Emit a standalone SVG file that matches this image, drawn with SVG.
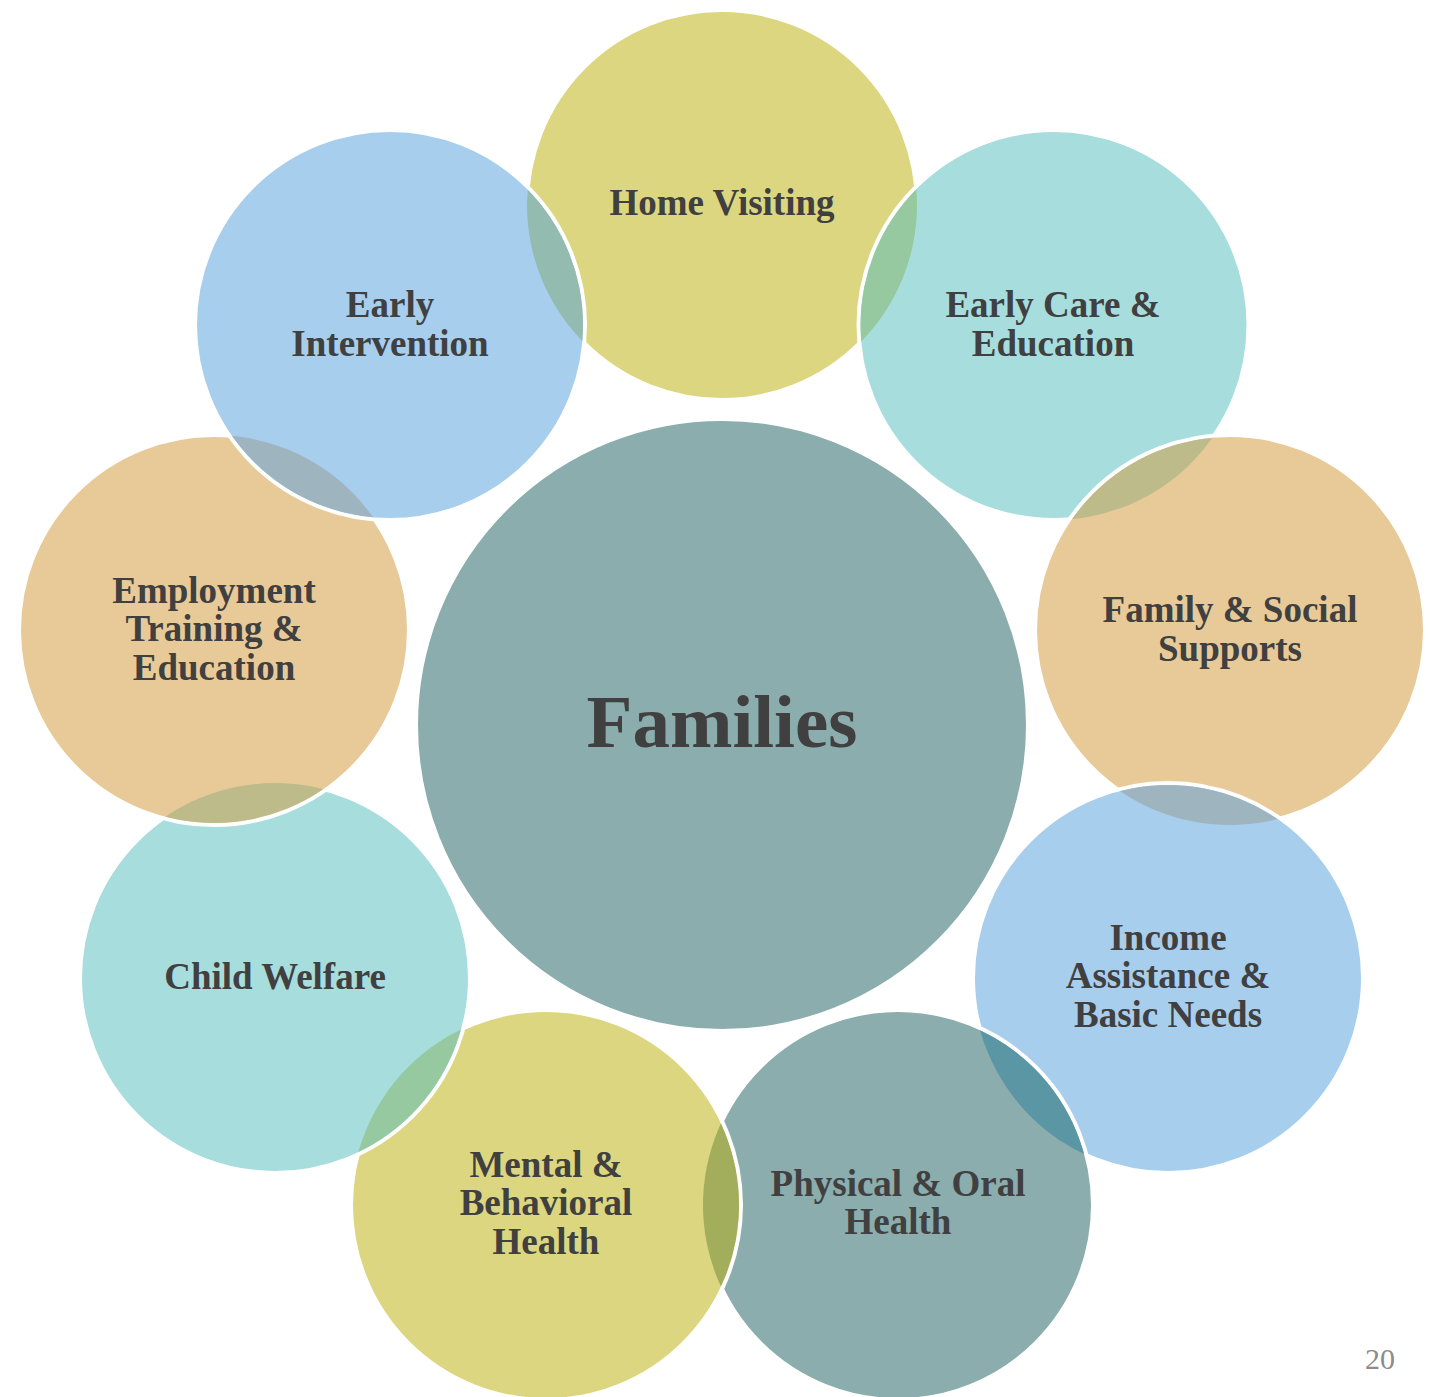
<svg xmlns="http://www.w3.org/2000/svg" width="1438" height="1397" viewBox="0 0 1438 1397">
  <style>
    .c { stroke: #ffffff; stroke-width: 4; }
    .lbl { font-family: "Liberation Serif", "Times New Roman", serif; font-weight: bold; font-size: 37px; fill: #404040; text-anchor: middle; }
    .big { font-family: "Liberation Serif", "Times New Roman", serif; font-weight: bold; font-size: 75px; fill: #404040; text-anchor: middle; }
    .pg { font-family: "Liberation Serif", "Times New Roman", serif; font-size: 30px; fill: #8c8c8c; text-anchor: end; }
  </style>
  <defs>
    <clipPath id="clipEC"><circle cx="1053.5" cy="325" r="193"/></clipPath>
    <clipPath id="clipFam"><circle cx="1230" cy="630" r="193"/></clipPath>
    <clipPath id="clipInc"><circle cx="1168" cy="978" r="193"/></clipPath>
    <clipPath id="clipPhy"><circle cx="898" cy="1205" r="193"/></clipPath>
    <clipPath id="clipMen"><circle cx="546" cy="1205" r="193"/></clipPath>
    <clipPath id="clipCW"><circle cx="275" cy="978" r="193"/></clipPath>
    <clipPath id="clipEmp"><circle cx="214" cy="630" r="193"/></clipPath>
    <clipPath id="clipEI"><circle cx="390" cy="325" r="193"/></clipPath>
  </defs>
  <rect width="1438" height="1397" fill="#ffffff"/>

  <g id="families">
    <circle cx="722" cy="725" r="306" fill="#8badad" class="c"/>
  </g>
  <g id="home-visiting">
    <circle cx="722" cy="205" r="195" fill="#dbd67f" class="c"/>
  </g>
  <g id="early-care-education">
    <circle cx="1053.5" cy="325" r="195" fill="#a8dddd" class="c"/>
  </g>
  <g id="family-social-supports">
    <circle cx="1230" cy="630" r="195" fill="#e8ca98" class="c"/>
  </g>
  <g id="income-assistance">
    <circle cx="1168" cy="978" r="195" fill="#a8ceee" class="c"/>
  </g>
  <g id="physical-oral-health">
    <circle cx="898" cy="1205" r="195" fill="#8badad" class="c"/>
  </g>
  <g id="mental-behavioral-health">
    <circle cx="546" cy="1205" r="195" fill="#dbd67f" class="c"/>
  </g>
  <g id="child-welfare">
    <circle cx="275" cy="978" r="195" fill="#a8dddd" class="c"/>
  </g>
  <g id="employment-training">
    <circle cx="214" cy="630" r="195" fill="#e8ca98" class="c"/>
  </g>
  <g id="early-intervention">
    <circle cx="390" cy="325" r="195" fill="#a8ceee" class="c"/>
  </g>

  <g id="overlaps">
    <circle cx="722" cy="205" r="195" fill="#97c9a0" clip-path="url(#clipEC)"/>
    <circle cx="1053.5" cy="325" r="195" fill="#bebb8b" clip-path="url(#clipFam)"/>
    <circle cx="1230" cy="630" r="195" fill="#9eb5bf" clip-path="url(#clipInc)"/>
    <circle cx="1168" cy="978" r="195" fill="#5b96a5" clip-path="url(#clipPhy)"/>
    <circle cx="898" cy="1205" r="195" fill="#a2ae5c" clip-path="url(#clipMen)"/>
    <circle cx="546" cy="1205" r="195" fill="#97c9a0" clip-path="url(#clipCW)"/>
    <circle cx="275" cy="978" r="195" fill="#bebb8b" clip-path="url(#clipEmp)"/>
    <circle cx="214" cy="630" r="195" fill="#9eb5bf" clip-path="url(#clipEI)"/>
    <circle cx="722" cy="205" r="195" fill="#93bbb0" clip-path="url(#clipEI)"/>
  </g>

  <g id="labels">
    <text class="big" x="722" y="747">Families</text>
    <text class="lbl" x="722" y="215">Home Visiting</text>
    <text class="lbl" x="1053" y="317">Early Care &amp;</text>
    <text class="lbl" x="1053" y="356">Education</text>
    <text class="lbl" x="1230" y="622">Family &amp; Social</text>
    <text class="lbl" x="1230" y="661">Supports</text>
    <text class="lbl" x="1168" y="950">Income</text>
    <text class="lbl" x="1168" y="988">Assistance &amp;</text>
    <text class="lbl" x="1168" y="1027">Basic Needs</text>
    <text class="lbl" x="898" y="1196">Physical &amp; Oral</text>
    <text class="lbl" x="898" y="1234">Health</text>
    <text class="lbl" x="546" y="1177">Mental &amp;</text>
    <text class="lbl" x="546" y="1215">Behavioral</text>
    <text class="lbl" x="546" y="1254">Health</text>
    <text class="lbl" x="275" y="989">Child Welfare</text>
    <text class="lbl" x="214" y="603">Employment</text>
    <text class="lbl" x="214" y="641">Training &amp;</text>
    <text class="lbl" x="214" y="680">Education</text>
    <text class="lbl" x="390" y="317">Early</text>
    <text class="lbl" x="390" y="356">Intervention</text>
    <text class="pg" x="1395" y="1369">20</text>
  </g>
</svg>
